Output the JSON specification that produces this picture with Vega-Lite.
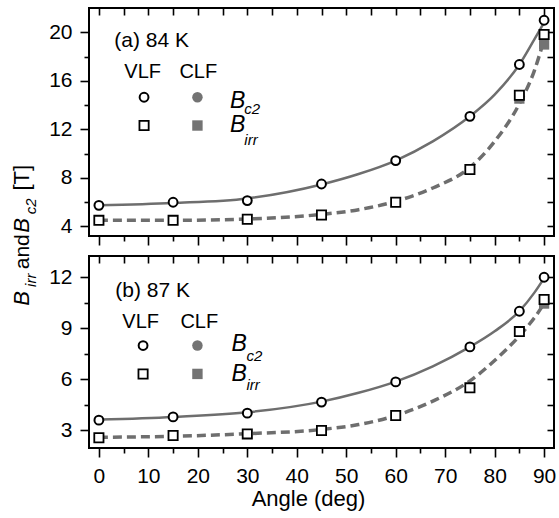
{
"$schema":"https://vega.github.io/schema/vega-lite/v6.json",
"padding":{"left":10,"top":6,"right":1,"bottom":8},
"config":{
 "font":"Liberation Sans",
 "view":{"stroke":"black","strokeWidth":2},
 "axis":{"labelFont":"Liberation Sans","labelFontSize":21,"labelColor":"black","titleFont":"Liberation Sans","titleFontSize":22,"titleFontWeight":"normal","titleColor":"black","tickColor":"black","tickWidth":1.6,"domain":false,"grid":false,"labelFlush":false,"labelOverlap":false,"labelBound":false},
 "text":{"font":"Liberation Sans","color":"black"}
},
"datasets":{
 "pts":[
  {"panel":"a","series":"VLF Bc2","angle":0,"B":5.73},
  {"panel":"a","series":"VLF Bc2","angle":15,"B":5.98},
  {"panel":"a","series":"VLF Bc2","angle":30,"B":6.12},
  {"panel":"a","series":"VLF Bc2","angle":45,"B":7.49},
  {"panel":"a","series":"VLF Bc2","angle":60,"B":9.42},
  {"panel":"a","series":"VLF Bc2","angle":75,"B":13.07},
  {"panel":"a","series":"VLF Bc2","angle":85,"B":17.34},
  {"panel":"a","series":"VLF Bc2","angle":90,"B":20.99},
  {"panel":"a","series":"VLF Birr","angle":0,"B":4.49},
  {"panel":"a","series":"VLF Birr","angle":15,"B":4.49},
  {"panel":"a","series":"VLF Birr","angle":30,"B":4.58},
  {"panel":"a","series":"VLF Birr","angle":45,"B":4.93},
  {"panel":"a","series":"VLF Birr","angle":60,"B":5.98},
  {"panel":"a","series":"VLF Birr","angle":75,"B":8.68},
  {"panel":"a","series":"VLF Birr","angle":85,"B":14.8},
  {"panel":"a","series":"VLF Birr","angle":90,"B":19.81},
  {"panel":"a","series":"CLF Birr","angle":85,"B":14.53},
  {"panel":"a","series":"CLF Birr","angle":90,"B":18.99},
  {"panel":"b","series":"VLF Bc2","angle":0,"B":3.59},
  {"panel":"b","series":"VLF Bc2","angle":15,"B":3.78},
  {"panel":"b","series":"VLF Bc2","angle":30,"B":4.0},
  {"panel":"b","series":"VLF Bc2","angle":45,"B":4.65},
  {"panel":"b","series":"VLF Bc2","angle":60,"B":5.84},
  {"panel":"b","series":"VLF Bc2","angle":75,"B":7.9},
  {"panel":"b","series":"VLF Bc2","angle":85,"B":10.0},
  {"panel":"b","series":"VLF Bc2","angle":90,"B":12.0},
  {"panel":"b","series":"VLF Birr","angle":0,"B":2.55},
  {"panel":"b","series":"VLF Birr","angle":15,"B":2.69},
  {"panel":"b","series":"VLF Birr","angle":30,"B":2.78},
  {"panel":"b","series":"VLF Birr","angle":45,"B":2.98},
  {"panel":"b","series":"VLF Birr","angle":60,"B":3.86},
  {"panel":"b","series":"VLF Birr","angle":75,"B":5.49},
  {"panel":"b","series":"VLF Birr","angle":85,"B":8.8},
  {"panel":"b","series":"VLF Birr","angle":90,"B":10.69},
  {"panel":"b","series":"CLF Birr","angle":90,"B":10.45}
 ],
 "fit":[
  {"panel":"a","curve":"Bc2","angle":0,"B":5.73},
  {"panel":"a","curve":"Bc2","angle":15,"B":5.92},
  {"panel":"a","curve":"Bc2","angle":30,"B":6.3},
  {"panel":"a","curve":"Bc2","angle":45,"B":7.45},
  {"panel":"a","curve":"Bc2","angle":52.5,"B":8.31},
  {"panel":"a","curve":"Bc2","angle":60,"B":9.42},
  {"panel":"a","curve":"Bc2","angle":67.5,"B":11.0},
  {"panel":"a","curve":"Bc2","angle":75,"B":13.07},
  {"panel":"a","curve":"Bc2","angle":80,"B":14.86},
  {"panel":"a","curve":"Bc2","angle":85,"B":17.34},
  {"panel":"a","curve":"Bc2","angle":88,"B":19.4},
  {"panel":"a","curve":"Bc2","angle":90,"B":20.8},
  {"panel":"a","curve":"Birr","angle":0,"B":4.49},
  {"panel":"a","curve":"Birr","angle":15,"B":4.49},
  {"panel":"a","curve":"Birr","angle":30,"B":4.6},
  {"panel":"a","curve":"Birr","angle":45,"B":4.98},
  {"panel":"a","curve":"Birr","angle":52.5,"B":5.37},
  {"panel":"a","curve":"Birr","angle":60,"B":6.06},
  {"panel":"a","curve":"Birr","angle":67.5,"B":7.16},
  {"panel":"a","curve":"Birr","angle":75,"B":8.85},
  {"panel":"a","curve":"Birr","angle":80,"B":11.0},
  {"panel":"a","curve":"Birr","angle":85,"B":14.1},
  {"panel":"a","curve":"Birr","angle":88,"B":16.8},
  {"panel":"a","curve":"Birr","angle":90,"B":19.4},
  {"panel":"b","curve":"Bc2","angle":0,"B":3.62},
  {"panel":"b","curve":"Bc2","angle":15,"B":3.78},
  {"panel":"b","curve":"Bc2","angle":30,"B":4.05},
  {"panel":"b","curve":"Bc2","angle":45,"B":4.68},
  {"panel":"b","curve":"Bc2","angle":52.5,"B":5.2},
  {"panel":"b","curve":"Bc2","angle":60,"B":5.86},
  {"panel":"b","curve":"Bc2","angle":67.5,"B":6.76},
  {"panel":"b","curve":"Bc2","angle":75,"B":7.9},
  {"panel":"b","curve":"Bc2","angle":80,"B":8.82},
  {"panel":"b","curve":"Bc2","angle":85,"B":10.0},
  {"panel":"b","curve":"Bc2","angle":88,"B":11.08},
  {"panel":"b","curve":"Bc2","angle":90,"B":11.95},
  {"panel":"b","curve":"Birr","angle":0,"B":2.58},
  {"panel":"b","curve":"Birr","angle":15,"B":2.64},
  {"panel":"b","curve":"Birr","angle":30,"B":2.79},
  {"panel":"b","curve":"Birr","angle":45,"B":3.04},
  {"panel":"b","curve":"Birr","angle":52.5,"B":3.33},
  {"panel":"b","curve":"Birr","angle":60,"B":3.86},
  {"panel":"b","curve":"Birr","angle":67.5,"B":4.71},
  {"panel":"b","curve":"Birr","angle":75,"B":5.9},
  {"panel":"b","curve":"Birr","angle":80,"B":7.1},
  {"panel":"b","curve":"Birr","angle":85,"B":8.55},
  {"panel":"b","curve":"Birr","angle":88,"B":9.6},
  {"panel":"b","curve":"Birr","angle":90,"B":10.45}
 ]
},
"spacing":20,
"bounds":"flush",
"vconcat":[
 {"width":465,"height":228,
  "resolve":{"axis":{"x":"independent","y":"independent"}},
  "layer":[
   {"data":{"name":"fit"},"transform":[{"filter":"datum.panel === 'a' && datum.curve === 'Bc2'"}],
    "mark":{"type":"line","color":"#6e6e6e","strokeWidth":2.5,"interpolate":"monotone"},
    "encoding":{
     "x":{"field":"angle","type":"quantitative","scale":{"domain":[-2,92],"nice":false,"zero":false},
      "axis":{"orient":"bottom","values":[0,5,10,15,20,25,30,35,40,45,50,55,60,65,70,75,80,85,90],"labels":false,"title":null,"tickSize":{"condition":{"test":"datum.value % 10 === 0","value":9},"value":5}}},
     "y":{"field":"B","type":"quantitative","scale":{"domain":[3.2,22],"nice":false,"zero":false},
      "axis":{"orient":"left","values":[4,6,8,10,12,14,16,18,20],"labelExpr":"datum.value % 4 === 0 ? datum.label : ''","labelPadding":8,"title":null,"tickSize":{"condition":{"test":"datum.value % 4 === 0","value":9},"value":5}}}
    }},
   {"data":{"name":"fit"},"transform":[{"filter":"datum.panel === 'a' && datum.curve === 'Birr'"}],
    "mark":{"type":"line","color":"#6e6e6e","strokeWidth":3.5,"strokeDash":[9,5],"interpolate":"monotone"},
    "encoding":{"x":{"field":"angle","type":"quantitative","axis":null},"y":{"field":"B","type":"quantitative","axis":null}}},
   {"data":{"name":"pts"},"transform":[{"filter":"datum.panel === 'a' && datum.series === 'CLF Birr'"}],
    "mark":{"type":"point","shape":"square","filled":true,"color":"#737373","size":105,"opacity":1},
    "encoding":{
     "x":{"field":"angle","type":"quantitative","axis":{"orient":"top","values":[0,5,10,15,20,25,30,35,40,45,50,55,60,65,70,75,80,85,90],"labels":false,"title":null,"tickSize":-7}},
     "y":{"field":"B","type":"quantitative","axis":{"orient":"right","values":[4,6,8,10,12,14,16,18,20],"labels":false,"title":null,"tickSize":-7}}}},
   {"data":{"name":"pts"},"transform":[{"filter":"datum.panel === 'a' && datum.series === 'VLF Birr'"}],
    "mark":{"type":"point","shape":"square","filled":true,"fill":"white","stroke":"black","strokeWidth":1.8,"size":85,"opacity":1},
    "encoding":{"x":{"field":"angle","type":"quantitative","axis":null},"y":{"field":"B","type":"quantitative","axis":null}}},
   {"data":{"name":"pts"},"transform":[{"filter":"datum.panel === 'a' && datum.series === 'VLF Bc2'"}],
    "mark":{"type":"point","shape":"circle","filled":true,"fill":"white","stroke":"black","strokeWidth":2,"size":78,"opacity":1},
    "encoding":{"x":{"field":"angle","type":"quantitative","axis":null},"y":{"field":"B","type":"quantitative","axis":null}}},
   {"data":{"values":[{}]},"mark":{"type":"text","text":"(a) 84 K","fontSize":21,"align":"left","baseline":"alphabetic"},
    "encoding":{"x":{"datum":3.12,"type":"quantitative","axis":null},"y":{"datum":18.76,"type":"quantitative","axis":null}}},
   {"data":{"values":[{}]},"mark":{"type":"text","text":"VLF","fontSize":20,"align":"left","baseline":"alphabetic"},
    "encoding":{"x":{"datum":5.15,"type":"quantitative","axis":null},"y":{"datum":16.21,"type":"quantitative","axis":null}}},
   {"data":{"values":[{}]},"mark":{"type":"text","text":"CLF","fontSize":20,"align":"left","baseline":"alphabetic"},
    "encoding":{"x":{"datum":16.28,"type":"quantitative","axis":null},"y":{"datum":16.21,"type":"quantitative","axis":null}}},
   {"data":{"values":[{}]},"mark":{"type":"point","shape":"circle","filled":true,"fill":"white","stroke":"black","strokeWidth":2,"size":78,"opacity":1},
    "encoding":{"x":{"datum":9.13,"type":"quantitative","axis":null},"y":{"datum":14.64,"type":"quantitative","axis":null}}},
   {"data":{"values":[{}]},"mark":{"type":"point","shape":"circle","filled":true,"color":"#737373","size":110,"opacity":1},
    "encoding":{"x":{"datum":19.92,"type":"quantitative","axis":null},"y":{"datum":14.64,"type":"quantitative","axis":null}}},
   {"data":{"values":[{}]},"mark":{"type":"point","shape":"square","filled":true,"fill":"white","stroke":"black","strokeWidth":1.8,"size":85,"opacity":1},
    "encoding":{"x":{"datum":9.13,"type":"quantitative","axis":null},"y":{"datum":12.31,"type":"quantitative","axis":null}}},
   {"data":{"values":[{}]},"mark":{"type":"point","shape":"square","filled":true,"color":"#737373","size":108,"opacity":1},
    "encoding":{"x":{"datum":19.92,"type":"quantitative","axis":null},"y":{"datum":12.31,"type":"quantitative","axis":null}}},
   {"data":{"values":[{}]},"mark":{"type":"text","text":"B","fontSize":23,"fontStyle":"italic","align":"left","baseline":"alphabetic"},
    "encoding":{"x":{"datum":26.5,"type":"quantitative","axis":null},"y":{"datum":13.73,"type":"quantitative","axis":null}}},
   {"data":{"values":[{}]},"mark":{"type":"text","text":"c2","fontSize":15,"fontStyle":"italic","align":"left","baseline":"alphabetic"},
    "encoding":{"x":{"datum":29.4,"type":"quantitative","axis":null},"y":{"datum":13.23,"type":"quantitative","axis":null}}},
   {"data":{"values":[{}]},"mark":{"type":"text","text":"B","fontSize":23,"fontStyle":"italic","align":"left","baseline":"alphabetic"},
    "encoding":{"x":{"datum":26.5,"type":"quantitative","axis":null},"y":{"datum":11.76,"type":"quantitative","axis":null}}},
   {"data":{"values":[{}]},"mark":{"type":"text","text":"irr","fontSize":15,"fontStyle":"italic","align":"left","baseline":"alphabetic"},
    "encoding":{"x":{"datum":29.4,"type":"quantitative","axis":null},"y":{"datum":10.74,"type":"quantitative","axis":null}}},
   {"data":{"values":[{}]},"mark":{"type":"text","text":"B","fontSize":22,"fontStyle":"italic","angle":270,"align":"center","baseline":"alphabetic"},
    "encoding":{"x":{"datum":-14.09,"type":"quantitative","axis":null},"y":{"datum":-1.94,"type":"quantitative","axis":null}}},
   {"data":{"values":[{}]},"mark":{"type":"text","text":"irr","fontSize":15,"fontStyle":"italic","angle":270,"align":"center","baseline":"alphabetic"},
    "encoding":{"x":{"datum":-12.67,"type":"quantitative","axis":null},"y":{"datum":-0.45,"type":"quantitative","axis":null}}},
   {"data":{"values":[{}]},"mark":{"type":"text","text":"and","fontSize":21,"angle":270,"align":"center","baseline":"alphabetic"},
    "encoding":{"x":{"datum":-14.09,"type":"quantitative","axis":null},"y":{"datum":1.9,"type":"quantitative","axis":null}}},
   {"data":{"values":[{}]},"mark":{"type":"text","text":"B","fontSize":22,"fontStyle":"italic","angle":270,"align":"center","baseline":"alphabetic"},
    "encoding":{"x":{"datum":-14.09,"type":"quantitative","axis":null},"y":{"datum":4.08,"type":"quantitative","axis":null}}},
   {"data":{"values":[{}]},"mark":{"type":"text","text":"c2","fontSize":15,"fontStyle":"italic","angle":270,"align":"center","baseline":"alphabetic"},
    "encoding":{"x":{"datum":-12.67,"type":"quantitative","axis":null},"y":{"datum":5.65,"type":"quantitative","axis":null}}},
   {"data":{"values":[{}]},"mark":{"type":"text","text":"[T]","fontSize":22,"angle":270,"align":"center","baseline":"alphabetic"},
    "encoding":{"x":{"datum":-14.09,"type":"quantitative","axis":null},"y":{"datum":8.0,"type":"quantitative","axis":null}}}
  ]},
 {"width":465,"height":192,
  "resolve":{"axis":{"x":"independent","y":"independent"}},
  "layer":[
   {"data":{"name":"fit"},"transform":[{"filter":"datum.panel === 'b' && datum.curve === 'Bc2'"}],
    "mark":{"type":"line","color":"#6e6e6e","strokeWidth":2.5,"interpolate":"monotone"},
    "encoding":{
     "x":{"field":"angle","type":"quantitative","scale":{"domain":[-2,92],"nice":false,"zero":false},
      "axis":{"orient":"bottom","values":[0,5,10,15,20,25,30,35,40,45,50,55,60,65,70,75,80,85,90],"labelExpr":"datum.value % 10 === 0 ? datum.label : ''","labelPadding":8,"title":"Angle (deg)","titleFontSize":22,"titlePadding":2,"titleX":219,"titleAlign":"center","tickSize":{"condition":{"test":"datum.value % 10 === 0","value":9},"value":5}}},
     "y":{"field":"B","type":"quantitative","scale":{"domain":[1.95,13.25],"nice":false,"zero":false},
      "axis":{"orient":"left","values":[3,4.5,6,7.5,9,10.5,12],"labelExpr":"datum.value % 3 === 0 ? datum.label : ''","labelPadding":8,"title":null,"tickSize":{"condition":{"test":"datum.value % 3 === 0","value":9},"value":5}}}
    }},
   {"data":{"name":"fit"},"transform":[{"filter":"datum.panel === 'b' && datum.curve === 'Birr'"}],
    "mark":{"type":"line","color":"#6e6e6e","strokeWidth":3.5,"strokeDash":[9,5],"interpolate":"monotone"},
    "encoding":{"x":{"field":"angle","type":"quantitative","axis":null},"y":{"field":"B","type":"quantitative","axis":null}}},
   {"data":{"name":"pts"},"transform":[{"filter":"datum.panel === 'b' && datum.series === 'CLF Birr'"}],
    "mark":{"type":"point","shape":"square","filled":true,"color":"#737373","size":105,"opacity":1},
    "encoding":{
     "x":{"field":"angle","type":"quantitative","axis":{"orient":"top","values":[0,5,10,15,20,25,30,35,40,45,50,55,60,65,70,75,80,85,90],"labels":false,"title":null,"tickSize":-7}},
     "y":{"field":"B","type":"quantitative","axis":{"orient":"right","values":[3,4.5,6,7.5,9,10.5,12],"labels":false,"title":null,"tickSize":-7}}}},
   {"data":{"name":"pts"},"transform":[{"filter":"datum.panel === 'b' && datum.series === 'VLF Birr'"}],
    "mark":{"type":"point","shape":"square","filled":true,"fill":"white","stroke":"black","strokeWidth":1.8,"size":85,"opacity":1},
    "encoding":{"x":{"field":"angle","type":"quantitative","axis":null},"y":{"field":"B","type":"quantitative","axis":null}}},
   {"data":{"name":"pts"},"transform":[{"filter":"datum.panel === 'b' && datum.series === 'VLF Bc2'"}],
    "mark":{"type":"point","shape":"circle","filled":true,"fill":"white","stroke":"black","strokeWidth":2,"size":78,"opacity":1},
    "encoding":{"x":{"field":"angle","type":"quantitative","axis":null},"y":{"field":"B","type":"quantitative","axis":null}}},
   {"data":{"values":[{}]},"mark":{"type":"text","text":"(b) 87 K","fontSize":21,"align":"left","baseline":"alphabetic"},
    "encoding":{"x":{"datum":3.32,"type":"quantitative","axis":null},"y":{"datum":10.84,"type":"quantitative","axis":null}}},
   {"data":{"values":[{}]},"mark":{"type":"text","text":"VLF","fontSize":20,"align":"left","baseline":"alphabetic"},
    "encoding":{"x":{"datum":4.74,"type":"quantitative","axis":null},"y":{"datum":9.02,"type":"quantitative","axis":null}}},
   {"data":{"values":[{}]},"mark":{"type":"text","text":"CLF","fontSize":20,"align":"left","baseline":"alphabetic"},
    "encoding":{"x":{"datum":16.48,"type":"quantitative","axis":null},"y":{"datum":9.02,"type":"quantitative","axis":null}}},
   {"data":{"values":[{}]},"mark":{"type":"point","shape":"circle","filled":true,"fill":"white","stroke":"black","strokeWidth":2,"size":78,"opacity":1},
    "encoding":{"x":{"datum":8.93,"type":"quantitative","axis":null},"y":{"datum":7.98,"type":"quantitative","axis":null}}},
   {"data":{"values":[{}]},"mark":{"type":"point","shape":"circle","filled":true,"color":"#737373","size":110,"opacity":1},
    "encoding":{"x":{"datum":19.92,"type":"quantitative","axis":null},"y":{"datum":7.98,"type":"quantitative","axis":null}}},
   {"data":{"values":[{}]},"mark":{"type":"point","shape":"square","filled":true,"fill":"white","stroke":"black","strokeWidth":1.8,"size":85,"opacity":1},
    "encoding":{"x":{"datum":8.93,"type":"quantitative","axis":null},"y":{"datum":6.31,"type":"quantitative","axis":null}}},
   {"data":{"values":[{}]},"mark":{"type":"point","shape":"square","filled":true,"color":"#737373","size":108,"opacity":1},
    "encoding":{"x":{"datum":19.92,"type":"quantitative","axis":null},"y":{"datum":6.31,"type":"quantitative","axis":null}}},
   {"data":{"values":[{}]},"mark":{"type":"text","text":"B","fontSize":23,"fontStyle":"italic","align":"left","baseline":"alphabetic"},
    "encoding":{"x":{"datum":26.8,"type":"quantitative","axis":null},"y":{"datum":7.65,"type":"quantitative","axis":null}}},
   {"data":{"values":[{}]},"mark":{"type":"text","text":"c2","fontSize":15,"fontStyle":"italic","align":"left","baseline":"alphabetic"},
    "encoding":{"x":{"datum":29.84,"type":"quantitative","axis":null},"y":{"datum":7.06,"type":"quantitative","axis":null}}},
   {"data":{"values":[{}]},"mark":{"type":"text","text":"B","fontSize":23,"fontStyle":"italic","align":"left","baseline":"alphabetic"},
    "encoding":{"x":{"datum":26.8,"type":"quantitative","axis":null},"y":{"datum":5.88,"type":"quantitative","axis":null}}},
   {"data":{"values":[{}]},"mark":{"type":"text","text":"irr","fontSize":15,"fontStyle":"italic","align":"left","baseline":"alphabetic"},
    "encoding":{"x":{"datum":29.84,"type":"quantitative","axis":null},"y":{"datum":5.39,"type":"quantitative","axis":null}}}
  ]}
]
}
